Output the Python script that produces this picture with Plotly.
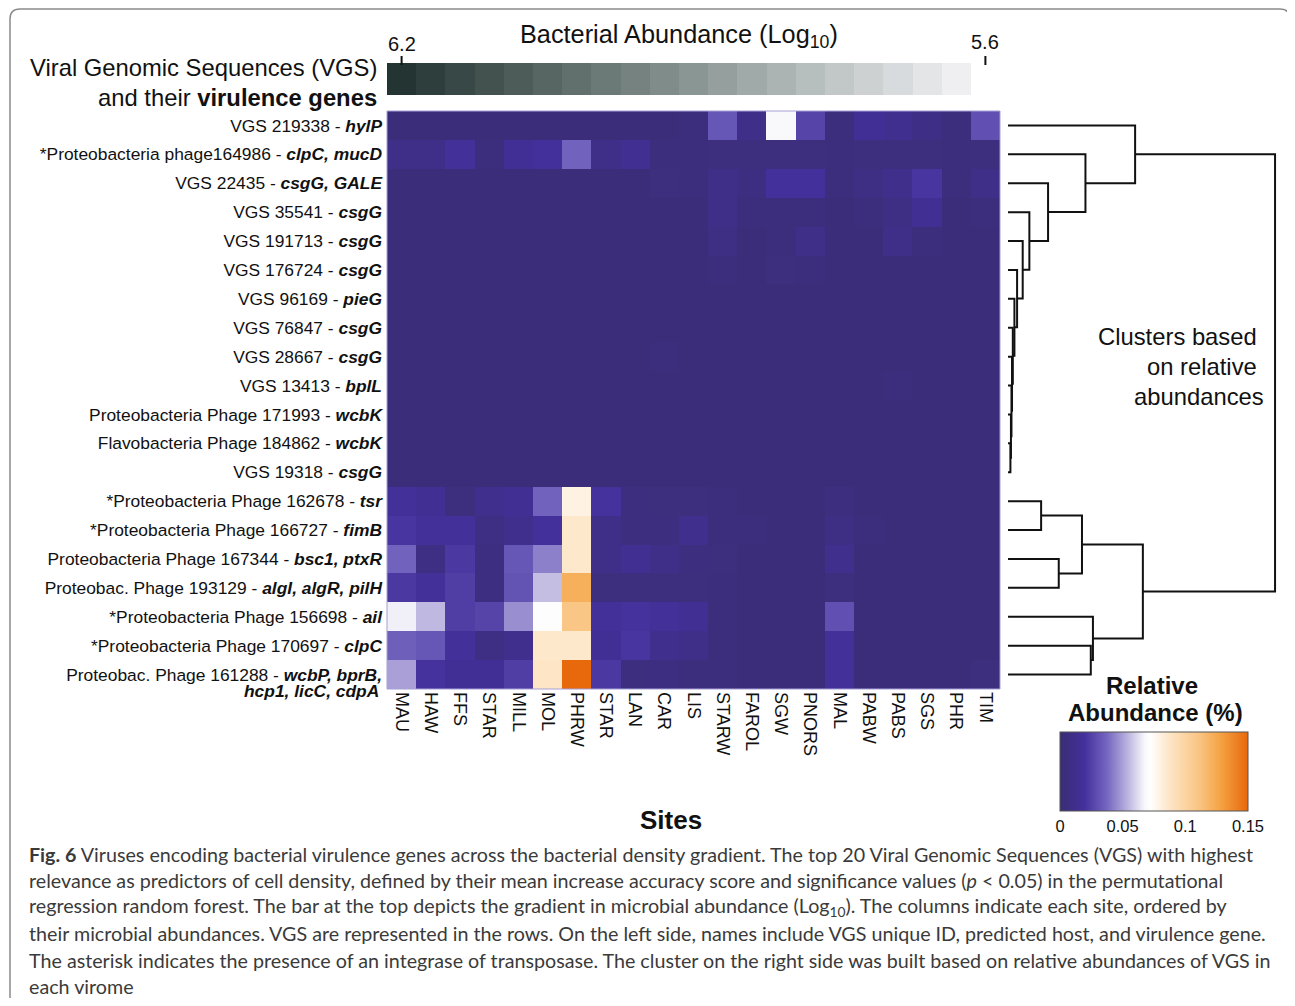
import plotly.graph_objects as go

OFF = 8  # page body margin of the browser
PAGE_W, PAGE_H = 1295, 1006
W, H = PAGE_W - OFF, PAGE_H - 2 * OFF  # keep the page free of scrollbars
FONT = "Liberation Sans, Arial, sans-serif"

sites = ["MAU", "HAW", "FFS", "STAR", "MILL", "MOL", "PHRW", "STAR", "LAN", "CAR", "LIS",
         "STARW", "FAROL", "SGW", "PNORS", "MAL", "PABW", "PABS", "SGS", "PHR", "TIM"]

vgs_labels = [
    "VGS 219338 - <b><i>hylP</i></b>",
    "*Proteobacteria phage164986 - <b><i>clpC, mucD</i></b>",
    "VGS 22435 - <b><i>csgG, GALE</i></b>",
    "VGS 35541 - <b><i>csgG</i></b>",
    "VGS 191713 - <b><i>csgG</i></b>",
    "VGS 176724 - <b><i>csgG</i></b>",
    "VGS 96169 - <b><i>pieG</i></b>",
    "VGS 76847 - <b><i>csgG</i></b>",
    "VGS 28667 - <b><i>csgG</i></b>",
    "VGS 13413 - <b><i>bplL</i></b>",
    "Proteobacteria Phage 171993 - <b><i>wcbK</i></b>",
    "Flavobacteria Phage 184862 - <b><i>wcbK</i></b>",
    "VGS 19318 - <b><i>csgG</i></b>",
    "*Proteobacteria Phage 162678 - <b><i>tsr</i></b>",
    "*Proteobacteria Phage 166727 - <b><i>fimB</i></b>",
    "Proteobacteria Phage 167344 - <b><i>bsc1, ptxR</i></b>",
    "Proteobac. Phage 193129 - <b><i>algI, algR, pilH</i></b>",
    "*Proteobacteria Phage 156698 - <b><i>ail</i></b>",
    "*Proteobacteria Phage 170697 - <b><i>clpC</i></b>",
    "Proteobac. Phage 161288 - <b><i>wcbP, bprB,</i></b>",
]
last_label_continuation = "<b><i>hcp1, licC, cdpA</i></b>"

# relative abundance (%) per VGS (rows) and site (columns)
rel_abund = [
    [0.003, 0.003, 0.003, 0.003, 0.003, 0.003, 0.003, 0.003, 0.003, 0.003, 0.004, 0.032, 0.010, 0.068, 0.026, 0.004, 0.016, 0.013, 0.009, 0.004, 0.030],
    [0.010, 0.010, 0.018, 0.004, 0.016, 0.019, 0.036, 0.010, 0.014, 0.004, 0.004, 0.005, 0.005, 0.005, 0.005, 0.004, 0.005, 0.005, 0.005, 0.004, 0.005],
    [0.003, 0.003, 0.003, 0.003, 0.003, 0.003, 0.003, 0.003, 0.003, 0.005, 0.004, 0.010, 0.007, 0.019, 0.019, 0.004, 0.008, 0.011, 0.021, 0.004, 0.010],
    [0.003, 0.003, 0.003, 0.003, 0.003, 0.003, 0.003, 0.003, 0.003, 0.003, 0.003, 0.010, 0.004, 0.004, 0.004, 0.003, 0.004, 0.008, 0.015, 0.003, 0.004],
    [0.003, 0.003, 0.003, 0.003, 0.003, 0.003, 0.003, 0.003, 0.003, 0.003, 0.003, 0.008, 0.003, 0.004, 0.010, 0.003, 0.003, 0.010, 0.004, 0.003, 0.003],
    [0.003, 0.003, 0.003, 0.003, 0.003, 0.003, 0.003, 0.003, 0.003, 0.003, 0.003, 0.004, 0.003, 0.005, 0.004, 0.003, 0.003, 0.003, 0.003, 0.003, 0.003],
    [0.003, 0.003, 0.003, 0.003, 0.003, 0.003, 0.003, 0.003, 0.003, 0.003, 0.003, 0.003, 0.003, 0.003, 0.003, 0.003, 0.003, 0.003, 0.003, 0.003, 0.003],
    [0.003, 0.003, 0.003, 0.003, 0.003, 0.003, 0.003, 0.003, 0.003, 0.003, 0.003, 0.003, 0.003, 0.003, 0.003, 0.003, 0.003, 0.003, 0.003, 0.003, 0.003],
    [0.003, 0.003, 0.003, 0.003, 0.003, 0.003, 0.003, 0.003, 0.003, 0.004, 0.003, 0.003, 0.003, 0.003, 0.003, 0.003, 0.003, 0.003, 0.003, 0.003, 0.003],
    [0.003, 0.003, 0.003, 0.003, 0.003, 0.003, 0.003, 0.003, 0.003, 0.003, 0.003, 0.003, 0.003, 0.003, 0.003, 0.003, 0.003, 0.004, 0.003, 0.003, 0.003],
    [0.003, 0.003, 0.003, 0.003, 0.003, 0.003, 0.003, 0.003, 0.003, 0.003, 0.003, 0.003, 0.003, 0.003, 0.003, 0.003, 0.003, 0.003, 0.003, 0.003, 0.003],
    [0.003, 0.003, 0.003, 0.003, 0.003, 0.003, 0.003, 0.003, 0.003, 0.003, 0.003, 0.003, 0.003, 0.003, 0.003, 0.003, 0.003, 0.003, 0.003, 0.003, 0.003],
    [0.003, 0.003, 0.003, 0.003, 0.003, 0.003, 0.003, 0.003, 0.003, 0.003, 0.003, 0.003, 0.003, 0.003, 0.003, 0.003, 0.003, 0.003, 0.003, 0.003, 0.003],
    [0.018, 0.015, 0.005, 0.012, 0.015, 0.036, 0.080, 0.020, 0.006, 0.005, 0.005, 0.004, 0.003, 0.003, 0.003, 0.006, 0.003, 0.003, 0.003, 0.003, 0.003],
    [0.021, 0.018, 0.018, 0.008, 0.012, 0.019, 0.086, 0.010, 0.006, 0.006, 0.012, 0.004, 0.004, 0.003, 0.003, 0.008, 0.004, 0.003, 0.003, 0.003, 0.003],
    [0.036, 0.008, 0.022, 0.007, 0.032, 0.043, 0.086, 0.010, 0.014, 0.010, 0.006, 0.005, 0.003, 0.003, 0.003, 0.012, 0.003, 0.003, 0.003, 0.003, 0.003],
    [0.022, 0.018, 0.024, 0.007, 0.031, 0.056, 0.122, 0.005, 0.005, 0.005, 0.005, 0.004, 0.003, 0.003, 0.003, 0.005, 0.003, 0.003, 0.003, 0.003, 0.003],
    [0.066, 0.055, 0.024, 0.026, 0.046, 0.071, 0.110, 0.018, 0.020, 0.018, 0.015, 0.004, 0.003, 0.003, 0.003, 0.030, 0.003, 0.003, 0.003, 0.003, 0.003],
    [0.035, 0.032, 0.018, 0.008, 0.012, 0.086, 0.086, 0.016, 0.021, 0.012, 0.010, 0.004, 0.003, 0.003, 0.003, 0.018, 0.003, 0.003, 0.003, 0.003, 0.003],
    [0.050, 0.020, 0.016, 0.016, 0.024, 0.088, 0.150, 0.022, 0.006, 0.007, 0.004, 0.004, 0.003, 0.003, 0.003, 0.018, 0.003, 0.003, 0.003, 0.003, 0.005],
]

# bacterial abundance gradient (Log10) shown at the top
bact_abund = [6.20, 6.17, 6.14, 6.11, 6.08, 6.05, 6.02, 5.99, 5.96, 5.93,
              5.90, 5.87, 5.84, 5.81, 5.78, 5.75, 5.72, 5.69, 5.66, 5.63]

# dendrogram merges (ids >= 20 are internal nodes, in creation order)
merge_left = [11, 10, 9, 8, 7, 6, 5, 4, 3, 2, 1, 0, 13, 15, 32, 18, 17, 34, 31]
merge_right = [12, 20, 21, 22, 23, 24, 25, 26, 27, 28, 29, 30, 14, 16, 33, 19, 35, 36, 37]
merge_height = [0.009, 0.011, 0.013, 0.015, 0.018, 0.024, 0.034, 0.055, 0.08, 0.15, 0.29, 0.476,
                0.124, 0.19, 0.277, 0.31, 0.318, 0.505, 1.0]

caption_lines = [
    "<b>Fig. 6</b> Viruses encoding bacterial virulence genes across the bacterial density gradient. The top 20 Viral Genomic Sequences (VGS) with highest",
    "relevance as predictors of cell density, defined by their mean increase accuracy score and significance values (<i>p</i> < 0.05) in the permutational",
    "regression random forest. The bar at the top depicts the gradient in microbial abundance (Log<sub>10</sub>). The columns indicate each site, ordered by",
    "their microbial abundances. VGS are represented in the rows. On the left side, names include VGS unique ID, predicted host, and virulence gene.",
    "The asterisk indicates the presence of an integrase of transposase. The cluster on the right side was built based on relative abundances of VGS in",
    "each virome",
]


def px_x(p):
    return (p - OFF) / W


def px_y(p):
    return 1 - (p - OFF) / H


heat_colorscale = [
    [0.0, "#3a2d74"], [0.13, "#44309c"], [0.25, "#7566c0"], [0.35, "#b4acdc"],
    [0.45, "#f8f7fb"], [0.48, "#ffffff"], [0.58, "#fde6c8"], [0.75, "#f9c27e"],
    [0.85, "#f5a445"], [1.0, "#e8680c"],
]
grey_colorscale = [[0.0, "#faf9fc"], [0.5, "#8a9694"], [1.0, "#243432"]]

fig = go.Figure()

fig.add_trace(go.Heatmap(
    z=rel_abund, x=list(range(len(sites))), y=list(range(len(vgs_labels))),
    colorscale=heat_colorscale, zmin=0, zmax=0.15,
    colorbar=dict(
        orientation="h", lenmode="pixels", len=188, thickness=79,
        x=px_x(1154), xanchor="center", y=px_y(732), yanchor="top",
        xpad=0, ypad=0, outlinewidth=1, outlinecolor="#555555",
        tickvals=[0, 0.05, 0.1, 0.15], ticktext=["0", "0.05", "0.1", "0.15"],
        ticks="", tickfont=dict(family=FONT, size=16.5, color="#111111"),
    ),
    hoverinfo="z",
))

fig.add_trace(go.Heatmap(
    z=[bact_abund], x=list(range(len(bact_abund))), y=[0],
    xaxis="x", yaxis="y2", colorscale=grey_colorscale, zmin=5.6, zmax=6.2,
    showscale=False,
))

# dendrogram
n_leaves = len(vgs_labels)
pos = {i: float(i) for i in range(n_leaves)}
hgt = {i: 0.0 for i in range(n_leaves)}
dx, dy = [], []
for k, (a, b, h) in enumerate(zip(merge_left, merge_right, merge_height)):
    node = n_leaves + k
    dx += [hgt[a], h, h, hgt[b], None]
    dy += [pos[a], pos[a], pos[b], pos[b], None]
    pos[node] = (pos[a] + pos[b]) / 2
    hgt[node] = h
fig.add_trace(go.Scatter(
    x=dx, y=dy, xaxis="x2", yaxis="y", mode="lines",
    line=dict(color="#111111", width=2), hoverinfo="skip", showlegend=False,
))

fig.update_layout(
    width=W, height=H, margin=dict(l=0, r=0, t=0, b=0),
    paper_bgcolor="white", plot_bgcolor="white",
    font=dict(family=FONT, color="#111111"),
    showlegend=False,
    xaxis=dict(
        domain=[px_x(387), px_x(1000)], range=[-0.5, len(sites) - 0.5],
        tickvals=list(range(len(sites))), ticktext=sites, tickangle=90,
        tickfont=dict(family=FONT, size=18, color="#111111"),
        showgrid=False, zeroline=False, ticks="", anchor="y", ticklabelstandoff=2,
    ),
    yaxis=dict(
        domain=[px_y(689), px_y(111)], range=[len(vgs_labels) - 0.5, -0.5],
        tickvals=list(range(len(vgs_labels))), ticktext=vgs_labels,
        tickfont=dict(family=FONT, size=17.4, color="#111111"),
        showgrid=False, zeroline=False, ticks="", anchor="x", ticklabelstandoff=4,
    ),
    yaxis2=dict(domain=[px_y(95), px_y(63)], range=[-0.5, 0.5], visible=False, anchor="x"),
    xaxis2=dict(domain=[px_x(1000), px_x(1290)], range=[-0.03, 1.056], visible=False, anchor="y"),
)

shapes = []
# heatmap outline
shapes.append(dict(type="rect", xref="paper", yref="paper",
                   x0=px_x(387), x1=px_x(1000), y0=px_y(689), y1=px_y(111),
                   line=dict(color="#a59fd6", width=1)))
# ticks above the gradient bar
for xv in (0, 20):
    shapes.append(dict(type="line", xref="x", yref="paper", x0=xv, x1=xv,
                       y0=px_y(65), y1=px_y(56), line=dict(color="#111111", width=2)))
# rounded figure frame (built from page pixels, drawn in paper units)
r = 10
fx0, fx1, fy0, fy1 = 10, 1290, 9, 1010


def P(x, y):
    return f"{px_x(x):.5f},{px_y(y):.5f}"


path = (f"M {P(fx0 + r, fy0)} L {P(fx1 - r, fy0)} Q {P(fx1, fy0)} {P(fx1, fy0 + r)} "
        f"L {P(fx1, fy1 - r)} Q {P(fx1, fy1)} {P(fx1 - r, fy1)} L {P(fx0 + r, fy1)} "
        f"Q {P(fx0, fy1)} {P(fx0, fy1 - r)} L {P(fx0, fy0 + r)} Q {P(fx0, fy0)} {P(fx0 + r, fy0)} Z")
shapes.append(dict(type="path", xref="paper", yref="paper", path=path,
                   line=dict(color="#8a8a8a", width=1.5), layer="below"))
fig.update_layout(shapes=shapes)

ann = []


def add_text(text, x, y, size, xanchor="center", color="#111111", family=FONT):
    ann.append(dict(text=text, x=px_x(x), y=px_y(y), xref="paper", yref="paper",
                    showarrow=False, xanchor=xanchor, yanchor="middle",
                    font=dict(family=family, size=size, color=color)))


add_text("Bacterial Abundance (Log<sub>10</sub>)", 679, 36, 25.3)
for xv, yv, txt in ((0, 44, "6.2"), (20, 42, "5.6")):
    ann.append(dict(text=txt, x=xv, y=px_y(yv), xref="x", yref="paper", showarrow=False,
                    xanchor="center", yanchor="middle", font=dict(family=FONT, size=20, color="#111111")))
add_text("Viral Genomic Sequences (VGS)", 379, 68, 23.8, xanchor="right")
add_text("and their <b>virulence genes</b>", 379, 97, 23.8, xanchor="right")
add_text(last_label_continuation, 381, 691, 17.4, xanchor="right")
add_text("<b>Sites</b>", 671, 820, 26)
add_text("Clusters based", 1259, 336, 23.8, xanchor="right")
add_text("on relative", 1259, 366, 23.8, xanchor="right")
add_text("abundances", 1266, 396, 23.8, xanchor="right")
add_text("<b>Relative</b>", 1152, 685, 24)
add_text("<b>Abundance (%)</b>", 1155, 712, 24)

cap_y = [854, 880, 907, 933, 960, 986]
for line, yy in zip(caption_lines, cap_y):
    add_text(line, 27, yy, 19.7, xanchor="left", color="#3a3a3a", family="Lato, Open Sans, sans-serif")

fig.update_layout(annotations=ann)

fig.write_html("out.html")
